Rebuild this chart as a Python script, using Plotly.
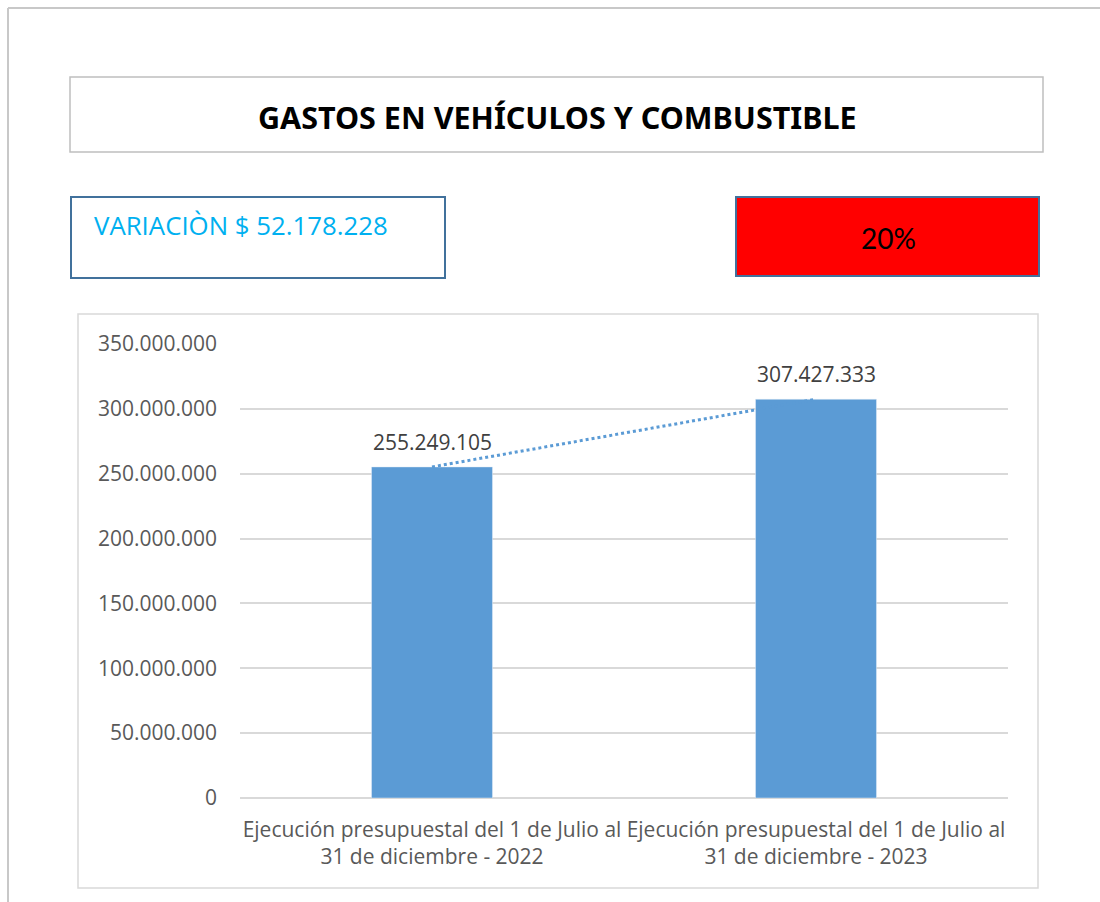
import numpy as np
import plotly.graph_objects as go

# Data
categories = ["Ejecución presupuestal del 1 de Julio al<br>31 de diciembre - 2022",
              "Ejecución presupuestal del 1 de Julio al<br>31 de diciembre - 2023"]
values = [255249105, 307427333]
tick_vals = [0, 50e6, 100e6, 150e6, 200e6, 250e6, 300e6, 350e6]
tick_text = ["0", "50.000.000", "100.000.000", "150.000.000", "200.000.000",
             "250.000.000", "300.000.000", "350.000.000"]
title = "GASTOS EN VEHÍCULOS Y COMBUSTIBLE"
variation_text = "VARIACIÒN $ 52.178.228"
pct_text = "20%"

W, H = 1100, 902
px_x = lambda x: x / W
px_y = lambda y: 1 - y / H

fmt = lambda v: f"{v:,.0f}".replace(",", ".")

# linear trend through the bars
idx = np.arange(len(values))
slope, icpt = np.polyfit(idx, values, 1)
trend = slope * idx + icpt

fig = go.Figure()
fig.add_trace(go.Bar(x=categories, y=values, marker_color="#5B9BD5"))
fig.add_trace(go.Scatter(x=categories, y=trend, mode="lines",
                         line=dict(color="#5B9BD5", width=3, dash="dot")))

def box(x0, y0, x1, y1, **kw):
    return dict(type="rect", xref="paper", yref="paper",
                x0=px_x(x0), x1=px_x(x1), y0=px_y(y1), y1=px_y(y0), **kw)

def hline(x0, x1, y, **kw):
    return dict(type="line", xref="paper", yref="paper",
                x0=px_x(x0), x1=px_x(x1), y0=px_y(y), y1=px_y(y), **kw)

shapes = [
    # outer page lines
    hline(8, 1100, 8, line=dict(color="#C8C8C8", width=2)),
    dict(type="line", xref="paper", yref="paper", x0=px_x(8), x1=px_x(8), y0=px_y(8), y1=0,
         line=dict(color="#C8C8C8", width=2)),
    # title box
    box(70, 77, 1043, 152, line=dict(color="#BFBFBF", width=1.5)),
    # variation box
    box(71, 197, 445, 278, line=dict(color="#41719C", width=2)),
    # percent box
    box(736, 197, 1039, 276, fillcolor="#FF0000", line=dict(color="#41719C", width=2), layer="below"),
    # chart area
    box(78, 314, 1038, 888, line=dict(color="#D9D9D9", width=1.5)),
]

annotations = [
    dict(text=f"<b>{title}</b>", x=px_x(557), y=px_y(117), xanchor="center", yanchor="middle",
         xref="paper", yref="paper", showarrow=False,
         font=dict(size=30.5, color="#000000", family="Noto Sans")),
    dict(text=variation_text, x=px_x(92), y=px_y(225), xanchor="left", yanchor="middle",
         xref="paper", yref="paper", showarrow=False,
         font=dict(size=25.8, color="#00B0F0", family="Open Sans")),
    dict(text=pct_text, x=px_x(888), y=px_y(238), xanchor="center", yanchor="middle",
         xref="paper", yref="paper", showarrow=False,
         font=dict(size=28, color="#000000", family="Lato")),
]
# data labels above the bars
for c, v in zip(categories, values):
    annotations.append(dict(text=fmt(v), x=c, y=v, xref="x", yref="y", yanchor="middle",
                            yshift=25, showarrow=False,
                            font=dict(size=21, color="#404040", family="Open Sans")))

fig.update_layout(
    width=W, height=H, margin=dict(l=0, r=0, t=0, b=0, autoexpand=False),
    paper_bgcolor="white", plot_bgcolor="white", showlegend=False,
    font=dict(family="Open Sans", color="#595959"),
    bargap=0.685, shapes=shapes, annotations=annotations,
    xaxis=dict(domain=[px_x(240), px_x(1008)], showline=False, ticks="", automargin=False,
               ticklabelstandoff=17, tickfont=dict(size=21, color="#595959")),
    yaxis=dict(domain=[px_y(798), px_y(344)], range=[0, 350e6], tickvals=tick_vals, ticktext=tick_text,
               gridcolor="#D9D9D9", gridwidth=1.5, zeroline=True, zerolinecolor="#D9D9D9", zerolinewidth=1.5,
               automargin=False, ticks="", ticklabelstandoff=22, tickfont=dict(size=21, color="#595959")),
)

fig.write_html("out.html", config={"displayModeBar": False},
               post_script="document.body.style.margin='0';document.body.style.overflow='hidden';")
